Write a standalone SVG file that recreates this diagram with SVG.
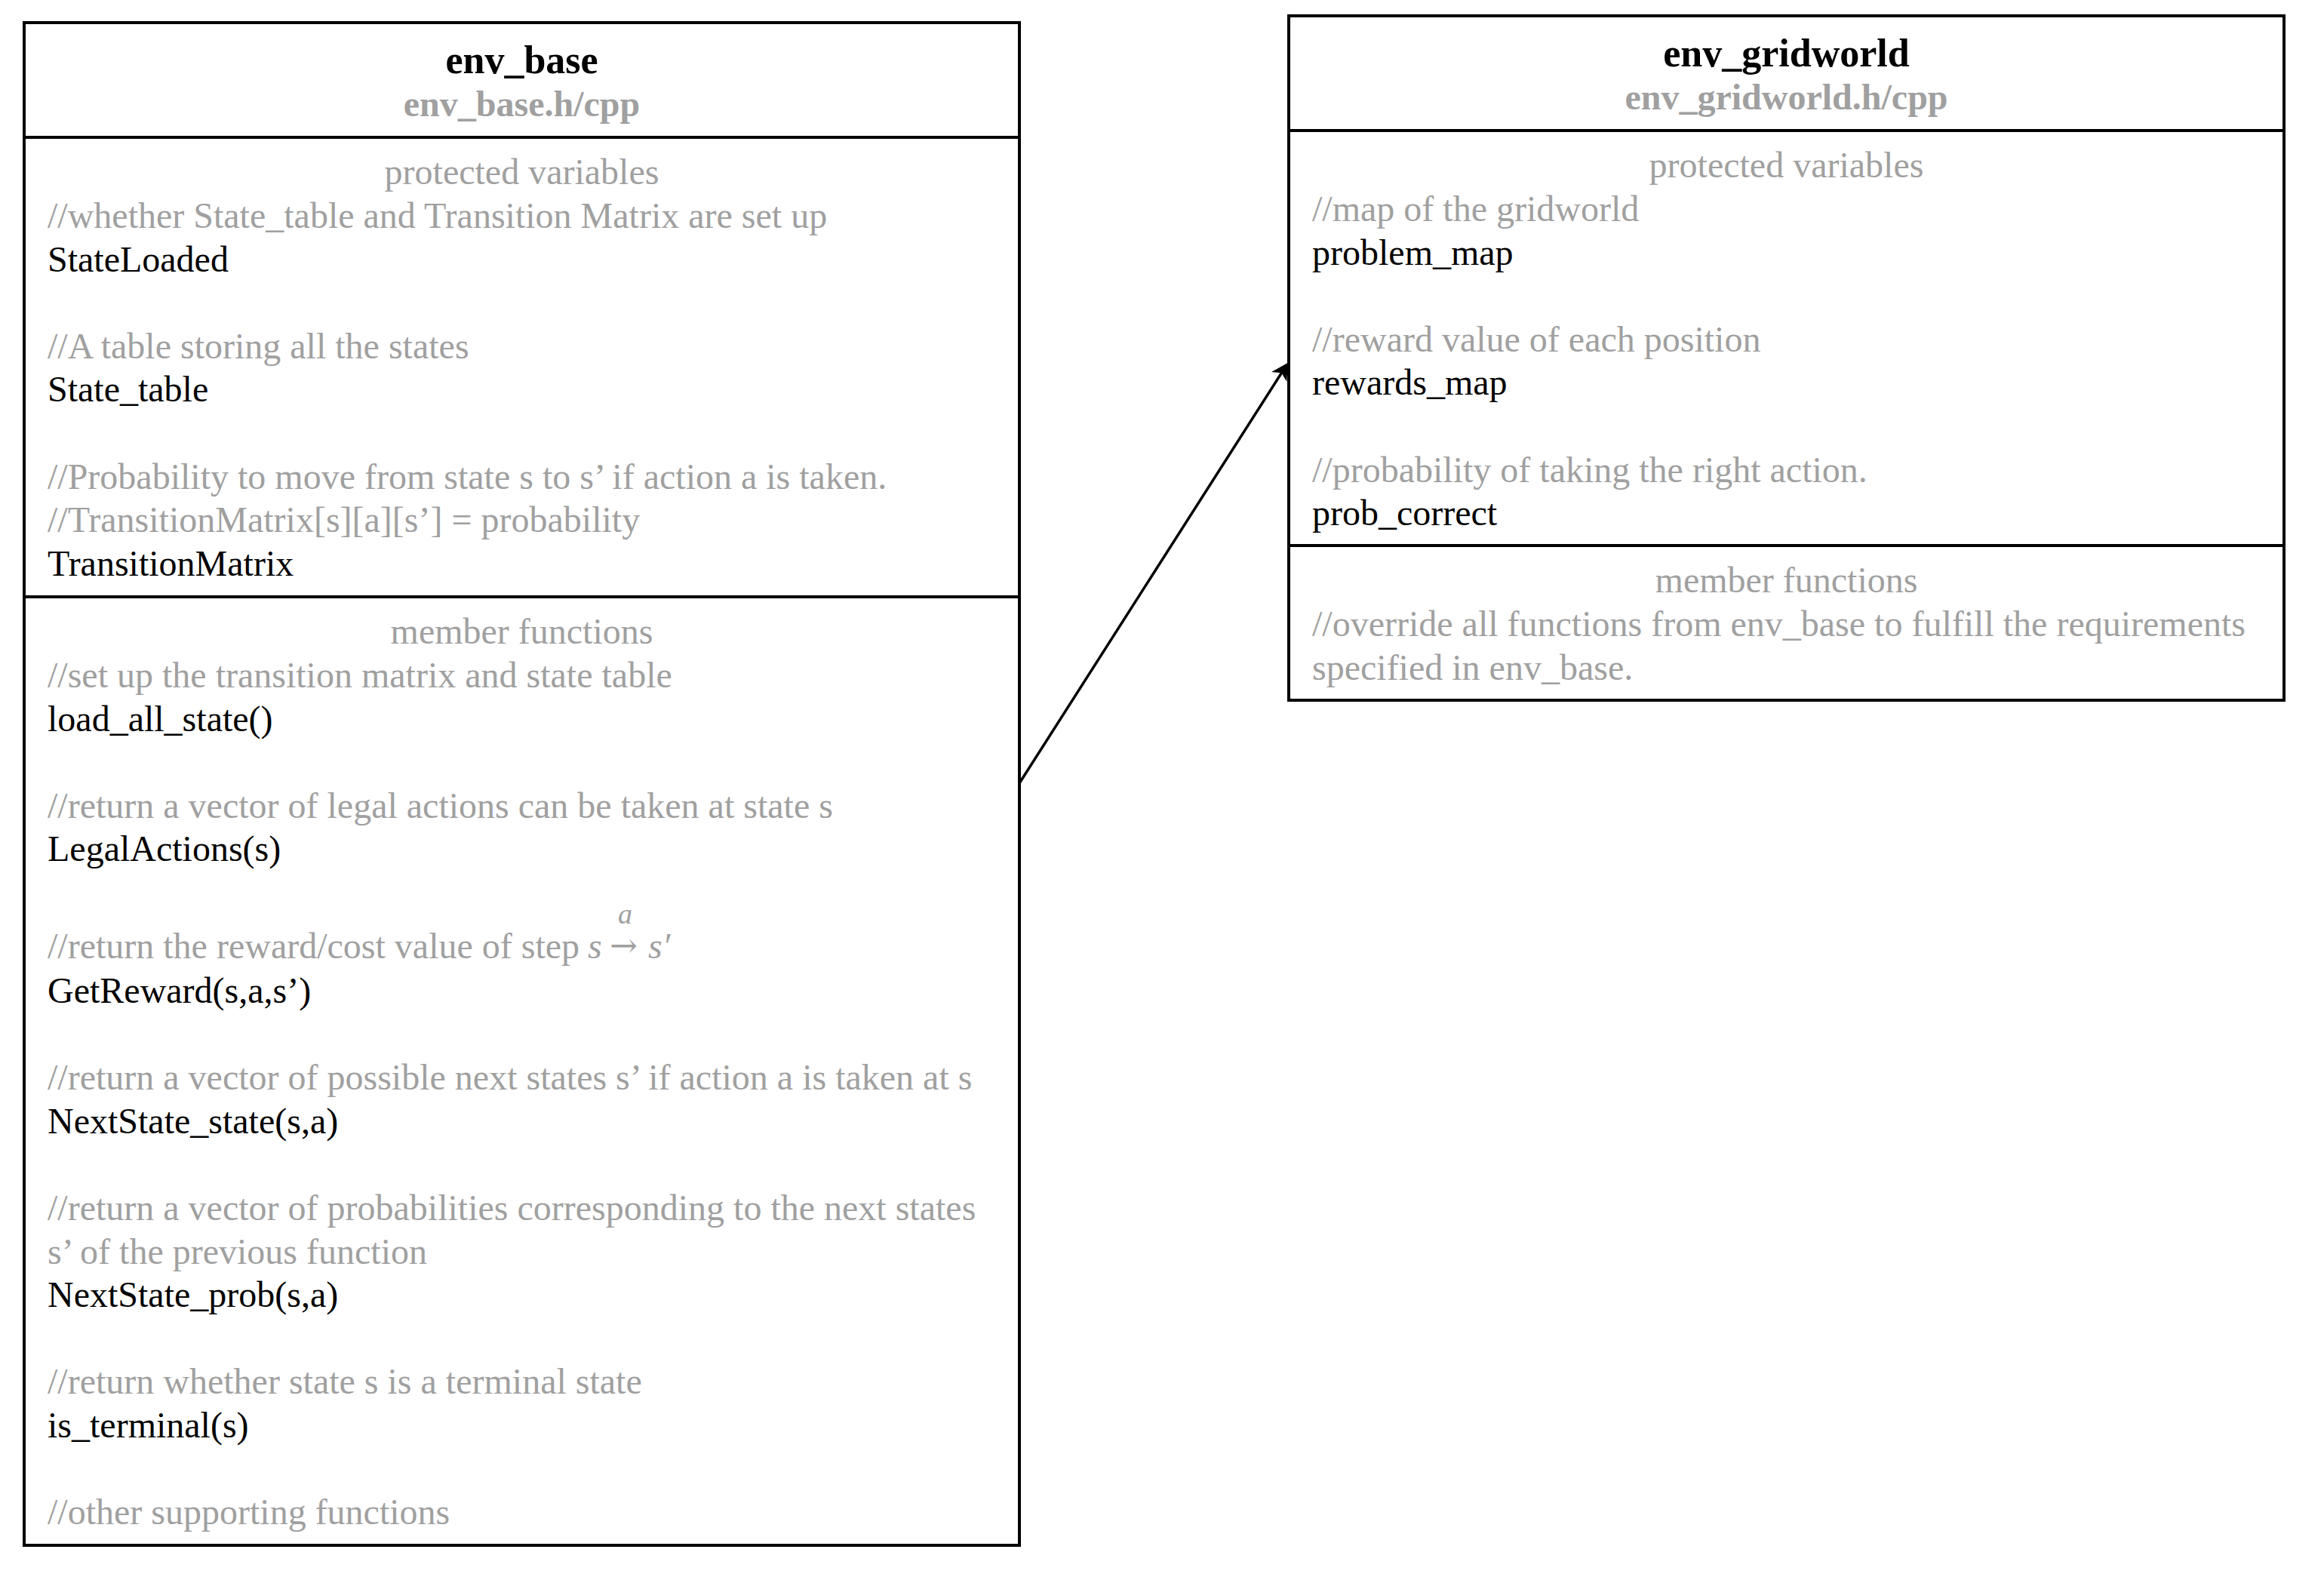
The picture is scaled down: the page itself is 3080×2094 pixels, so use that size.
<svg xmlns="http://www.w3.org/2000/svg" width="3080" height="2094" viewBox="0 0 3080 2094">
<style>
text{font-family:"Liberation Serif","Times New Roman",serif;font-size:48px;fill:#000}
.t{font-weight:bold;font-size:52px;text-anchor:middle}
.f{font-weight:bold;fill:#A0A0A0;text-anchor:middle}
.h{fill:#A0A0A0;text-anchor:middle}
.c{fill:#A0A0A0}
.m{fill:#A0A0A0;font-style:italic}
.box{fill:#fff;stroke:#000;stroke-width:4}
.sep{stroke:#000;stroke-width:4}
.edge{fill:none;stroke:#000;stroke-width:3.5}
</style>
<defs>
<marker id="arr" markerUnits="userSpaceOnUse" markerWidth="30" markerHeight="30" viewBox="0 -15 30 30" refX="6" refY="0" orient="auto">
<path d="M22,0 L0,-12 L6,0 L0,12 Z" fill="#000"/>
</marker>
</defs>
<rect width="3080" height="2094" fill="#fff"/>
<g id="connectors">
<path class="edge" d="M1351,1038 L1698.4,494.3" marker-end="url(#arr)"/>
</g>
<g id="env_base">
<rect class="box" x="32" y="30" width="1319" height="2018"/>
<line class="sep" x1="32" y1="182" x2="1351" y2="182"/>
<line class="sep" x1="32" y1="791" x2="1351" y2="791"/>
<text class="t" x="691.5" y="97">env_base</text>
<text class="f" x="691.5" y="154">env_base.h/cpp</text>
<text class="h" x="691.5" y="244.4">protected variables</text>
<text class="c" x="63" y="302">//whether State_table and Transition Matrix are set up</text>
<text x="63" y="359.6">StateLoaded</text>
<text class="c" x="63" y="474.8">//A table storing all the states</text>
<text x="63" y="532.4">State_table</text>
<text class="c" x="63" y="647.6">//Probability to move from state s to s’ if action a is taken.</text>
<text class="c" x="63" y="705.2">//TransitionMatrix[s][a][s’] = probability</text>
<text x="63" y="762.8">TransitionMatrix</text>
<text class="h" x="691.5" y="853.4">member functions</text>
<text class="c" x="63" y="911">//set up the transition matrix and state table</text>
<text x="63" y="968.6">load_all_state()</text>
<text class="c" x="63" y="1083.8">//return a vector of legal actions can be taken at state s</text>
<text x="63" y="1141.4">LegalActions(s)</text>
<text class="c" x="63" y="1270">//return the reward/cost value of step</text>
<text class="m" x="779" y="1270">s</text>
<text class="c" x="808" y="1268" style="font-family:'DejaVu Serif',serif;font-size:44px">→</text>
<text class="m" x="819" y="1224" style="font-size:38px">a</text>
<text class="m" x="859" y="1270">s′</text>
<text x="63" y="1329">GetReward(s,a,s’)</text>
<text class="c" x="63" y="1444.2">//return a vector of possible next states s’ if action a is taken at s</text>
<text x="63" y="1501.8">NextState_state(s,a)</text>
<text class="c" x="63" y="1617">//return a vector of probabilities corresponding to the next states</text>
<text class="c" x="63" y="1674.6">s’ of the previous function</text>
<text x="63" y="1732.2">NextState_prob(s,a)</text>
<text class="c" x="63" y="1847.4">//return whether state s is a terminal state</text>
<text x="63" y="1905">is_terminal(s)</text>
<text class="c" x="63" y="2020.2">//other supporting functions</text>
</g>
<g id="env_gridworld">
<rect class="box" x="1708" y="21" width="1319" height="907"/>
<line class="sep" x1="1708" y1="173" x2="3027" y2="173"/>
<line class="sep" x1="1708" y1="723" x2="3027" y2="723"/>
<text class="t" x="2367.5" y="88">env_gridworld</text>
<text class="f" x="2367.5" y="145">env_gridworld.h/cpp</text>
<text class="h" x="2367.5" y="235.4">protected variables</text>
<text class="c" x="1739" y="293">//map of the gridworld</text>
<text x="1739" y="350.6">problem_map</text>
<text class="c" x="1739" y="465.8">//reward value of each position</text>
<text x="1739" y="523.4">rewards_map</text>
<text class="c" x="1739" y="638.6">//probability of taking the right action.</text>
<text x="1739" y="696.2">prob_correct</text>
<text class="h" x="2367.5" y="785.4">member functions</text>
<text class="c" x="1739" y="843">//override all functions from env_base to fulfill the requirements</text>
<text class="c" x="1739" y="900.6">specified in env_base.</text>
</g>
</svg>
